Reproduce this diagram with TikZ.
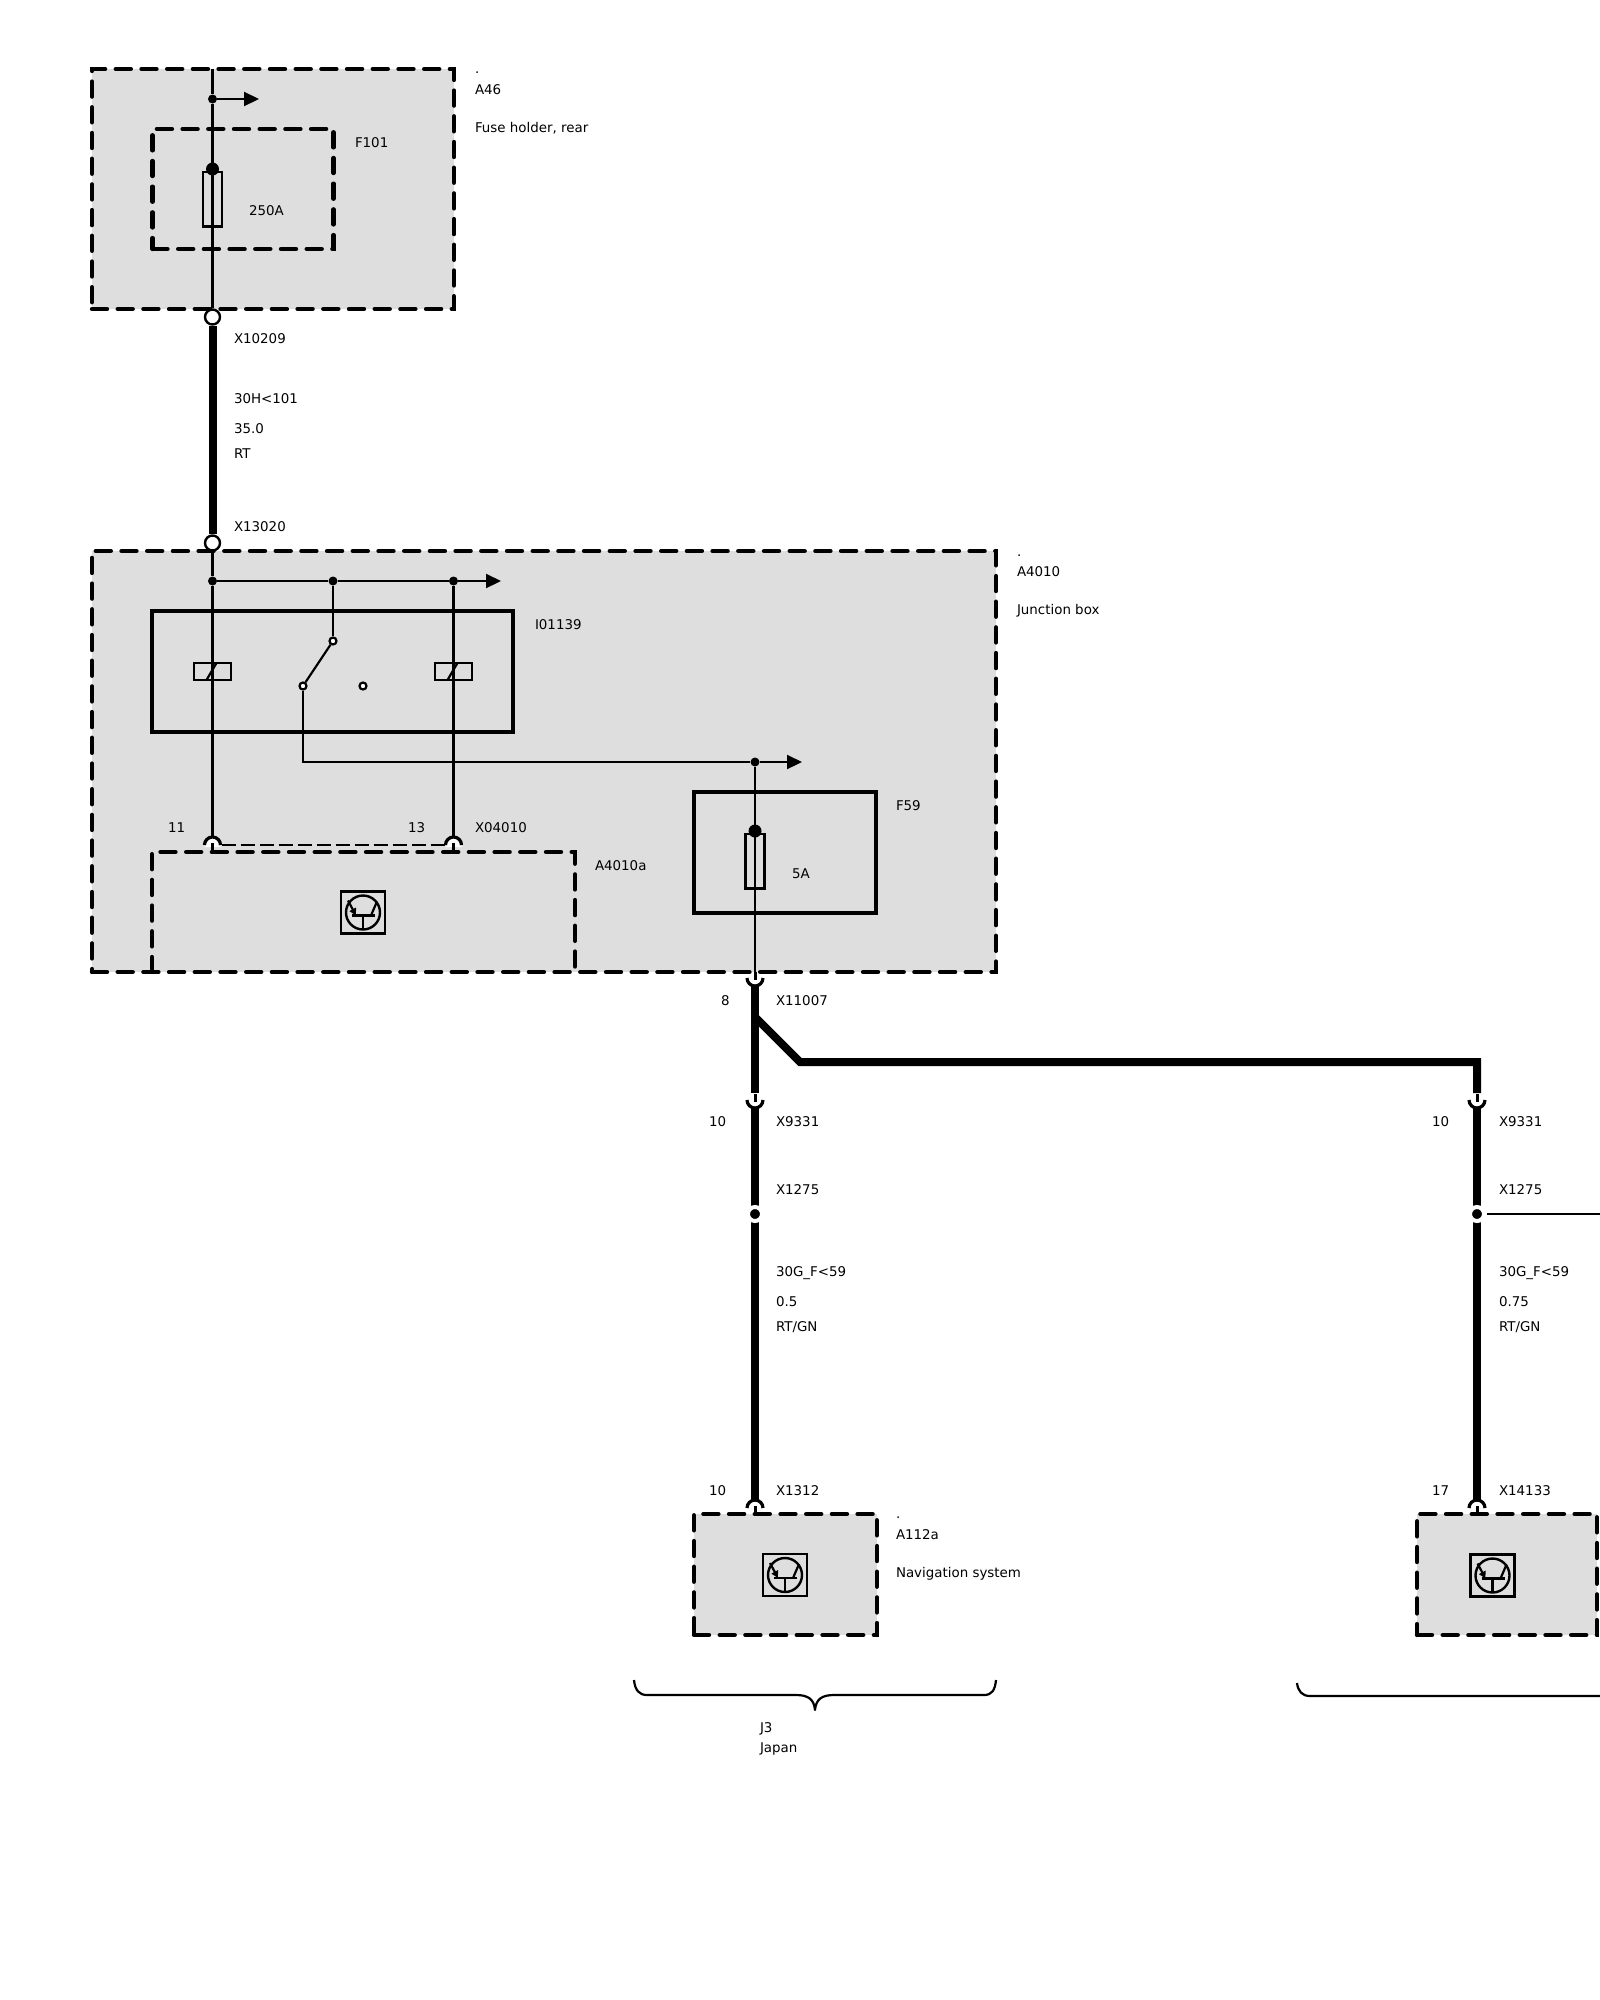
\documentclass[tikz,border=0pt]{standalone}
\usepackage{fontspec}
\setmainfont{DejaVu Sans}
\usetikzlibrary{arrows.meta,calc}
\definecolor{boxgray}{HTML}{DEDEDE}
\tikzset{
  lbl/.style={anchor=west, inner sep=0pt, outer sep=0pt, text height=9.6pt, text depth=0pt, font=\fontsize{13.4}{15}\selectfont},
  dashbox/.style={draw, line width=4.4pt, line cap=round, dash pattern=on 15pt off 10.7pt, outer sep=0pt},
  grayfill/.style={fill=boxgray},
  solidbox/.style={draw, line width=4.2pt, outer sep=0pt},
  wire/.style={line width=2.2pt},
  hotwire/.style={line width=8pt},
  jumper/.style={line width=1.8pt, dash pattern=on 14pt off 5pt},
  tap/.style={circle, fill=black, inner sep=0pt, minimum size=9pt},
  ring/.style={circle, draw, fill=white, line width=2.4pt, inner sep=0pt, minimum size=15pt},
  contact/.style={circle, draw, fill=white, line width=2.2pt, inner sep=0pt, minimum size=7pt},
  splice/.style={circle, draw=white, fill=black, line width=4pt, inner sep=0pt, minimum size=14pt},
  coil/.style={draw, line width=2.2pt, minimum width=37pt, minimum height=17pt, inner sep=0pt},
  flow/.style={-{Triangle[length=15pt,width=14pt]}},
  fuse/.pic={
    \draw[line width=2.3pt] (-9.5,0) rectangle (9.5,54.5);
    \fill (0,-3) circle (6.5pt);
  },
  jack/.pic={
    \fill[white] (-8,2) -- (-8,0) .. controls (-8,-4.4) and (-4.4,-8) .. (0,-8) .. controls (4.4,-8) and (8,-4.4) .. (8,0) -- (8,2) -- cycle;
    \draw[line width=3pt] (0,6) -- (0,-2);
    \draw[line width=3.2pt] (-8,0) .. controls (-8,-4.4) and (-4.4,-8) .. (0,-8) .. controls (4.4,-8) and (8,-4.4) .. (8,0);
  },
  ecu/.pic={
    \draw[line width=2.3pt] (-22,-21) rectangle (22,21);
    \draw[line width=2.4pt] (0,0) circle (17pt);
    \draw[line width=2.2pt] (-11,3) -- (12,3);
    \draw[line width=2.2pt] (0,3) -- (0,17);
    \draw[line width=2.2pt] (8,3) -- (14,-11);
    \draw[line width=2.2pt, -{Triangle[length=7pt,width=7pt]}] (-15,-12) -- (-7,3);
  }
}
\begin{document}
\begin{tikzpicture}[x=1pt,y=-1pt]
  \useasboundingbox (0,0) rectangle (1600,2000);

  % housings
  \node[dashbox, grayfill, minimum width=362pt, minimum height=240pt] (a46) at (273,189) {};
  \node[dashbox, minimum width=181pt, minimum height=120pt] (f101) at (243,189) {};
  \node[dashbox, grayfill, minimum width=904pt, minimum height=421pt] (a4010) at (544,761.5) {};
  \node[solidbox, minimum width=361pt, minimum height=121pt] (i01139) at (332.5,671.5) {};
  \node[solidbox, minimum width=182pt, minimum height=121pt] (f59) at (785,852.5) {};
  % A4010a stands on the bottom edge of A4010
  \draw[dashbox] (152,972) -- (152,852) -- (575,852) -- (575,972);
  \node[dashbox, grayfill, minimum width=183pt, minimum height=121pt] (a112a) at (785.5,1574.5) {};
  \node[dashbox, grayfill, minimum width=180pt, minimum height=121pt] (a112b) at (1507,1574.5) {};

  % A46
  \node[tap] (a46tap) at (212.5,99) {};
  \coordinate (a46in) at (212.5,69);
  \coordinate (a46out) at (259,99);
  \node[ring] (x10209) at (212.5,317) {};
  \node[ring] (x13020) at (212.5,543) {};
  \draw[wire] (a46in) -- (a46tap);
  \draw[wire] (a46tap) -- (x10209);
  \draw[wire, flow] (a46tap) -- (a46out);
  \pic at (212.5,172) {fuse};
  \draw[hotwire] (x10209) -- (x13020);

  % A4010 supply rail
  \node[tap] (rail1) at (212.5,581) {};
  \node[tap] (rail2) at (333,581) {};
  \node[tap] (rail3) at (453.5,581) {};
  \coordinate (railend) at (501,581);
  \draw[wire] (x13020) -- (rail1);
  \draw[wire] (rail1) -- (rail2);
  \draw[wire] (rail2) -- (rail3);
  \draw[wire, flow] (rail3) -- (railend);

  % relay
  \node[contact] (sw1) at (333,641) {};
  \node[contact] (sw2) at (303,686) {};
  \node[contact] (sw3) at (363,686) {};
  \coordinate (x04011) at (212.5,845);
  \coordinate (x04013) at (453.5,845);
  \draw[wire] (rail2) -- (sw1);
  \draw[wire] (sw1) -- (sw2);
  \node[coil] (coil1) at (212.5,671.5) {};
  \node[coil] (coil2) at (453.5,671.5) {};
  \draw[wire, shorten >=8pt] (rail1) -- (x04011);
  \draw[wire, shorten >=8pt] (rail3) -- (x04013);
  \draw[wire] ($(coil1)+(-6,8.5)$) -- ($(coil1)+(4,-8.5)$);
  \draw[wire] ($(coil2)+(-6,8.5)$) -- ($(coil2)+(4,-8.5)$);
  \draw[jumper, shorten <=9pt, shorten >=9pt] (x04011) -- (x04013);
  \pic at (x04011) {jack};
  \pic at (x04013) {jack};
  \pic at (363,912.5) {ecu};

  % F59 feed
  \node[tap] (f59tap) at (755,762) {};
  \coordinate (f59end) at (802,762);
  \coordinate (x11007) at (755,978);
  \draw[wire] (sw2) |- (f59tap);
  \draw[wire, flow] (f59tap) -- (f59end);
  \draw[wire] (f59tap) -- (x11007);
  \pic at (755,834) {fuse};
  \pic[yscale=-1] at (x11007) {jack};

  % harness
  \coordinate (split) at (755,1017);
  \coordinate (bend1) at (800,1062);
  \coordinate (bend2) at (1477,1062);
  \coordinate (x9331a) at (755,1100);
  \coordinate (x9331b) at (1477,1100);
  \coordinate (x1312) at (755,1508);
  \coordinate (x14133) at (1477,1508);
  \coordinate (rightedge) at (1600,1214);
  \draw[hotwire, shorten <=8pt, shorten >=7pt] (x11007) -- (x9331a);
  \draw[hotwire, shorten >=7pt] (split) -- (bend1) -- (bend2) -- (x9331b);
  \pic[yscale=-1] at (x9331a) {jack};
  \pic[yscale=-1] at (x9331b) {jack};
  \draw[hotwire, shorten <=8pt, shorten >=8pt] (x9331a) -- (x1312);
  \draw[hotwire, shorten <=8pt, shorten >=8pt] (x9331b) -- (x14133);
  \node[splice] (x1275a) at (755,1214) {};
  \node[splice] (x1275b) at (1477,1214) {};
  \draw[wire, shorten <=1pt] (x1275b) -- (rightedge);
  \pic at (x1312) {jack};
  \pic at (x14133) {jack};
  \pic at (785,1575) {ecu};
  \pic at (1492.5,1575.5) {ecu};

  % braces
  \draw[line width=2.2pt, line join=round] (634,1680) .. controls (635,1690) and (639,1695) .. (647,1695) -- (796,1695) .. controls (808,1695) and (814,1699) .. (815,1710) .. controls (816,1699) and (822,1695) .. (834,1695) -- (984,1695) .. controls (992,1695) and (995,1690) .. (996,1680);
  \draw[line width=2.2pt] (1297,1683) .. controls (1298,1691) and (1302,1696) .. (1310,1696) -- (1600,1696);

  % labels
  \node[lbl] (l1) at (475,69) {.};
  \node[lbl] (l2) at (475,90) {A46};
  \node[lbl] (l3) at (475,128) {Fuse holder, rear};
  \node[lbl] (l4) at (355,143) {F101};
  \node[lbl] (l5) at (249,211) {250A};
  \node[lbl] (l6) at (234,339) {X10209};
  \node[lbl] (l7) at (234,399) {30H<101};
  \node[lbl] (l8) at (234,429) {35.0};
  \node[lbl] (l9) at (234,454) {RT};
  \node[lbl] (l10) at (234,527) {X13020};
  \node[lbl] (l11) at (1017,552) {.};
  \node[lbl] (l12) at (1017,572) {A4010};
  \node[lbl] (l13) at (1017,610) {Junction box};
  \node[lbl] (l14) at (535,625) {I01139};
  \node[lbl] (l15) at (168,828) {11};
  \node[lbl] (l16) at (408,828) {13};
  \node[lbl] (l17) at (475,828) {X04010};
  \node[lbl] (l18) at (595,866) {A4010a};
  \node[lbl] (l19) at (896,806) {F59};
  \node[lbl] (l20) at (792,874) {5A};
  \node[lbl] (l21) at (721,1001) {8};
  \node[lbl] (l22) at (776,1001) {X11007};
  \node[lbl] (l23) at (709,1122) {10};
  \node[lbl] (l24) at (776,1122) {X9331};
  \node[lbl] (l25) at (776,1190) {X1275};
  \node[lbl] (l26) at (776,1272) {30G\_F<59};
  \node[lbl] (l27) at (776,1302) {0.5};
  \node[lbl] (l28) at (776,1327) {RT/GN};
  \node[lbl] (l29) at (709,1491) {10};
  \node[lbl] (l30) at (776,1491) {X1312};
  \node[lbl] (l31) at (896,1514) {.};
  \node[lbl] (l32) at (896,1535) {A112a};
  \node[lbl] (l33) at (896,1573) {Navigation system};
  \node[lbl] (l34) at (760,1728) {J3};
  \node[lbl] (l35) at (760,1748) {Japan};
  \node[lbl] (l36) at (1432,1122) {10};
  \node[lbl] (l37) at (1499,1122) {X9331};
  \node[lbl] (l38) at (1499,1190) {X1275};
  \node[lbl] (l39) at (1499,1272) {30G\_F<59};
  \node[lbl] (l40) at (1499,1302) {0.75};
  \node[lbl] (l41) at (1499,1327) {RT/GN};
  \node[lbl] (l42) at (1432,1491) {17};
  \node[lbl] (l43) at (1499,1491) {X14133};
\end{tikzpicture}
\end{document}
